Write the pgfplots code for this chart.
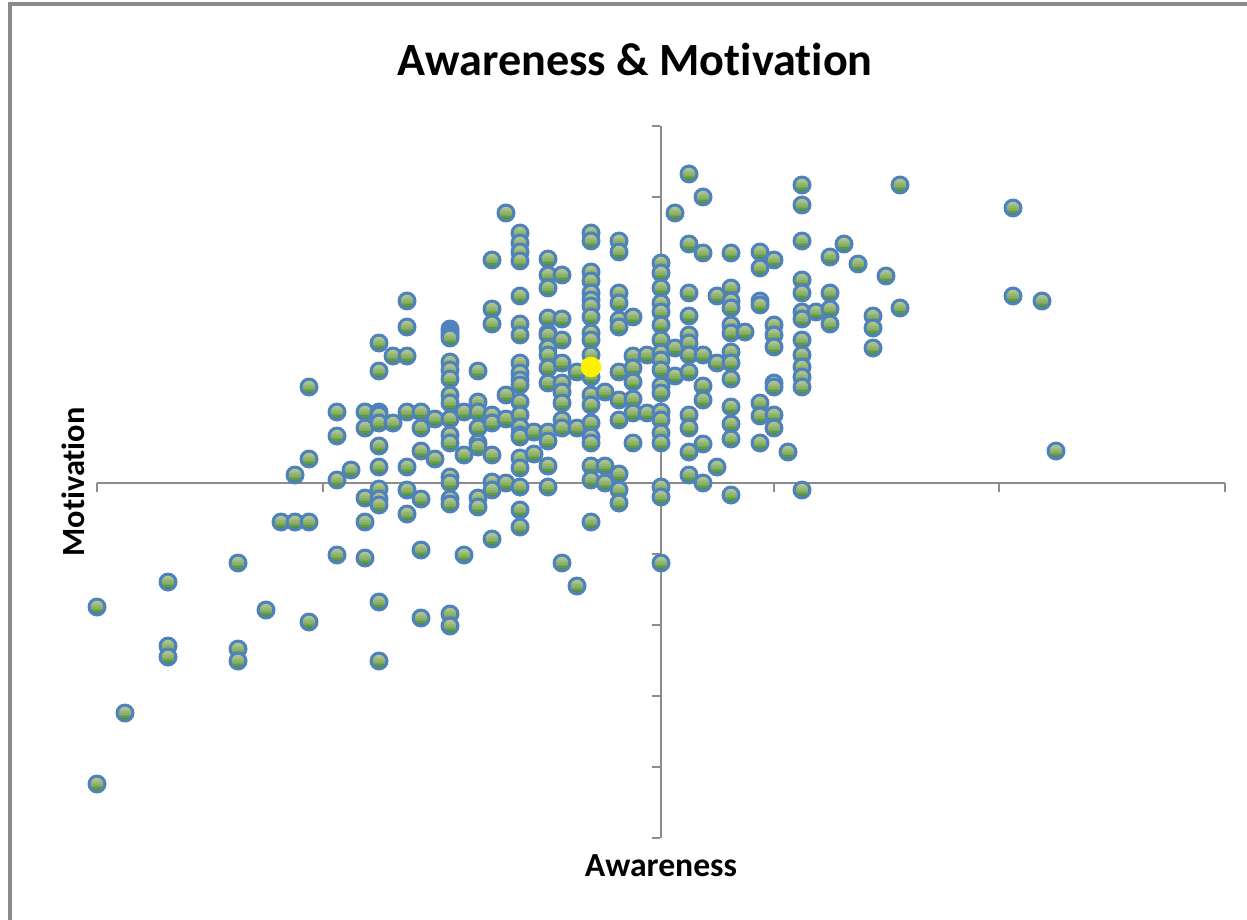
\documentclass[border=0pt]{standalone}
\usepackage{pgfplots}
\usepackage{fontspec}
\setmainfont[Ligatures=NoCommon]{Carlito}
\pgfplotsset{compat=1.18}
\definecolor{ringblue}{HTML}{4F81BD}
\definecolor{axgray}{HTML}{8C8C8C}
\definecolor{framegray}{HTML}{8A8A8A}
\definecolor{ga}{HTML}{B0C896}
\definecolor{gb}{HTML}{A8C28A}
\definecolor{gc}{HTML}{A0BC80}
\definecolor{gd}{HTML}{96B774}
\definecolor{ge}{HTML}{88AF66}
\definecolor{gf}{HTML}{76A555}
\definecolor{gg}{HTML}{619A44}
\definecolor{gh}{HTML}{4F8F35}
\newcommand{\gstrip}[2]{\pgfsetfillcolor{#1}\pgfpathrectangle{\pgfpoint{-4pt}{#2}}{\pgfpoint{8pt}{1.02pt}}\pgfusepathqfill}
\pgfdeclareplotmark{gball}{%
  \pgfsetfillcolor{ringblue}%
  \pgfpathcircle{\pgfpointorigin}{5.7pt}\pgfusepathqfill
  \pgfsetcolor{ringblue}%
  \begin{pgfscope}%
  \pgfpathcircle{\pgfpointorigin}{3.75pt}\pgfusepath{clip}%
  \gstrip{gh}{-4pt}\gstrip{gg}{-3pt}\gstrip{gf}{-2pt}\gstrip{ge}{-1pt}%
  \gstrip{gd}{0pt}\gstrip{gc}{1pt}\gstrip{gb}{2pt}\gstrip{ga}{3pt}%
  \end{pgfscope}%
}
\begin{document}
\begin{tikzpicture}[x=0.6pt,y=0.6pt]
\path[use as bounding box] (0,0) rectangle (1247,919);
\draw[framegray,line width=2pt] (10,-5) -- (10,915) -- (1252,915);
\begin{axis}[
  at={(97,81)},anchor=south west,
  scale only axis,width=676.8pt,height=427.2pt,
  xmin=-564,xmax=564,ymin=-355,ymax=357,
  axis lines=center,
  axis line style={-,axgray,line width=0.9pt},
  xtick={-564,-338,-113,113,338,564},
  ytick={-355,-284,-213,-142,-71,71,142,213,286,357},
  xticklabels={},yticklabels={},
  tick style={axgray,line width=0.9pt},
  x tick style={yshift=-2.6pt},
  y tick style={xshift=-3.2pt},
  major tick length=5pt,
  title={\fontsize{27.7}{27.7}\selectfont\bfseries Awareness \& Motivation},
  title style={at={(axis description cs:0.477,1.0787)},anchor=center,yshift=0pt},
  xlabel={\fontsize{20.2}{20.2}\selectfont\bfseries Awareness},
  ylabel={\fontsize{19.4}{19.4}\selectfont\bfseries Motivation},
  xlabel style={at={(axis description cs:0.5,-0.0393)},anchor=center},
  ylabel style={at={(axis description cs:-0.0213,0.5)},anchor=center,rotate=90},
  clip=false,
]
\addplot[only marks,mark=gball] table[x expr=\thisrowno{0}-661,y expr=483-\thisrowno{1}] {
x y
97 607
97 784
125 713
168 582
168 646
168 657
238 563
238 649
238 661
266 610
281 522
295 522
295 475
309 522
309 387
309 459
309 622
337 412
337 436
337 480
337 555
351 470
365 412
365 428
365 498
365 522
365 558
379 412
379 415
379 423
379 446
379 467
379 489
379 499
379 505
379 343
379 371
379 602
379 661
393 356
393 423
407 301
407 327
407 356
407 412
407 467
407 490
407 514
421 412
421 428
421 451
421 499
421 550
421 618
435 419
435 459
450 329
450 332
450 335
450 338
450 362
450 370
450 379
450 395
450 403
450 419
450 435
450 443
450 477
450 483
450 499
450 504
450 614
450 626
464 412
464 455
464 555
478 371
478 402
478 412
478 428
478 443
478 447
478 498
478 507
492 309
492 324
492 415
492 423
492 455
492 482
492 490
492 260
492 539
506 419
506 483
506 395
506 213
520 233
520 243
520 252
520 261
520 296
520 324
520 335
520 363
520 373
520 380
520 385
520 402
520 415
520 427
520 435
520 437
520 458
520 468
520 487
520 510
520 527
534 432
534 454
548 259
548 275
548 288
548 318
548 333
548 335
548 348
548 355
548 368
548 383
548 432
548 441
548 466
548 487
562 275
562 319
562 340
562 363
562 383
562 392
562 403
562 420
562 428
562 563
577 372
577 428
577 586
591 233
591 241
591 272
591 281
591 293
591 300
591 306
591 317
591 333
591 340
591 355
591 377
591 395
591 405
591 423
591 437
591 443
591 466
591 480
591 522
605 392
605 466
605 483
619 241
619 252
619 293
619 303
619 320
619 327
619 372
619 400
619 420
619 474
619 490
619 503
633 317
633 356
633 368
633 382
633 399
633 413
633 443
647 355
647 413
661 263
661 273
661 288
661 303
661 312
661 325
661 340
661 353
661 360
661 370
661 386
661 393
661 412
661 420
661 433
661 443
661 487
661 497
661 563
675 213
675 348
675 376
689 174
689 244
689 293
689 316
689 335
689 343
689 355
689 372
689 415
689 428
689 452
689 475
703 197
703 253
703 355
703 386
703 400
703 444
703 483
717 296
717 363
717 467
731 253
731 288
731 301
731 308
731 325
731 333
731 352
731 363
731 379
731 407
731 424
731 439
731 495
745 332
760 252
760 268
760 301
760 305
760 403
760 416
760 443
774 260
774 325
774 335
774 347
774 383
774 387
774 415
774 428
788 452
802 185
802 205
802 241
802 280
802 293
802 312
802 319
802 340
802 355
802 367
802 377
802 387
802 490
816 312
830 257
830 293
830 309
830 324
844 244
858 264
873 316
873 328
873 348
886 276
900 185
900 308
1013 208
1013 296
1042 301
1056 451
};
\addplot[only marks,mark=*,mark size=6pt,mark options={draw=yellow,fill=yellow}] table[x expr=\thisrowno{0}-661,y expr=483-\thisrowno{1}] {
x y
591 367
};
\end{axis}
\end{tikzpicture}
\end{document}
